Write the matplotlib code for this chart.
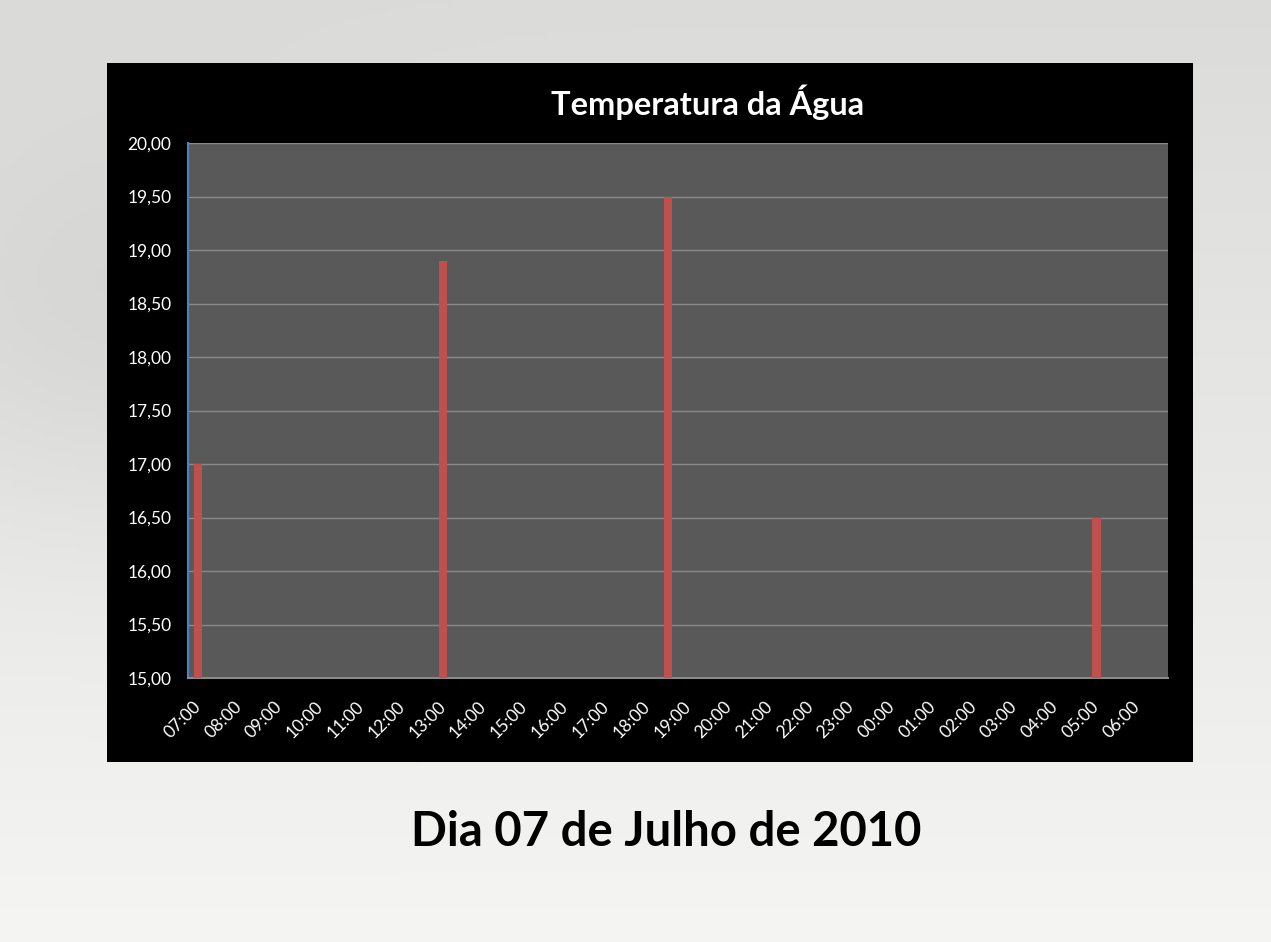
import numpy as np
import matplotlib
matplotlib.use("Agg")
import matplotlib.pyplot as plt

# ---- data ----
hours = ["07", "08", "09", "10", "11", "12", "13", "14", "15", "16", "17", "18",
         "19", "20", "21", "22", "23", "00", "01", "02", "03", "04", "05", "06"]
categories = [f"{h}:{m}" for h in hours for m in ("00", "30")]   # half-hour slots
measure_times = ["07:00", "13:00", "18:30", "05:00"]
measure_temps = [17.0, 18.9, 19.5, 16.5]
tick_labels = [f"{h}:00" for h in hours]
y_ticks = [15.0, 15.5, 16.0, 16.5, 17.0, 17.5, 18.0, 18.5, 19.0, 19.5, 20.0]

title = "Temperatura da Água"
subtitle = "Dia 07 de Julho de 2010"

plt.rcParams['font.family'] = ['Lato', 'DejaVu Sans']

W, H = 1271, 942
fig = plt.figure(figsize=(W / 100, H / 100), dpi=100)
fig.patch.set_facecolor("#ffffff")

# background slide (soft gray gradient)
bg = fig.add_axes([0, 0, 1, 1], zorder=-10)
bg.set_axis_off()
yy, xx = np.mgrid[0:1:200j, 0:1:200j]
shade = 0.86 + 0.10 * yy - 0.05 * np.exp(-((xx - 0.1) ** 2 + (yy - 0.35) ** 2) / 0.05)
shade = np.clip(shade, 0, 1)
img = np.dstack([shade, shade, shade * 0.995])
bg.imshow(img, extent=[0, 1, 0, 1], origin="upper", aspect="auto")
bg.set_xlim(0, 1)
bg.set_ylim(0, 1)

# black chart panel
panel = plt.Rectangle((107 / W, 1 - 762 / H), (1193 - 107) / W, (762 - 63) / H,
                      transform=fig.transFigure, facecolor="black", edgecolor="none", zorder=-5)
fig.patches.append(panel)

ax = fig.add_axes([188 / W, 1 - 678 / H, (1168 - 188) / W, (678 - 143) / H])
ax.set_facecolor("#595959")

x_idx = [categories.index(t) for t in measure_times]
ax.bar(x_idx, [v - 15.0 for v in measure_temps], bottom=15.0, width=0.42,
       color="#c0504d", zorder=3)

ax.set_xlim(-0.5, len(categories) - 0.5)
ax.set_ylim(15, 20)
ax.set_yticks(y_ticks)
ax.set_yticklabels([f"{v:.2f}".replace(".", ",") for v in y_ticks],
                   color="white", fontsize=12.5)
ax.set_xticks([categories.index(t) for t in tick_labels])
ax.set_xticklabels(tick_labels, rotation=45, ha="right", va="center",
                   rotation_mode="anchor", color="white", fontsize=12.5)
ax.tick_params(axis="both", length=0)
ax.tick_params(axis="y", pad=12)
ax.tick_params(axis="x", pad=19)
ax.yaxis.grid(True, color="#8a8a8a", linewidth=1.0, zorder=1)
ax.set_axisbelow(True)
for s in ("top", "right"):
    ax.spines[s].set_visible(False)
ax.spines["left"].set_color("#4f81bd")
ax.spines["left"].set_linewidth(1.5)
ax.spines["bottom"].set_color("#8a8a8a")
ax.spines["bottom"].set_linewidth(1.5)

fig.text(708 / W, 1 - 102 / H, title, color="white", fontsize=23.5, fontweight="bold",
         ha="center", va="center")
fig.text(666 / W, 1 - 832 / H, subtitle, color="black", fontsize=34, fontweight="bold",
         ha="center", va="center")

fig.savefig("out.png", dpi=100, facecolor=fig.get_facecolor())
